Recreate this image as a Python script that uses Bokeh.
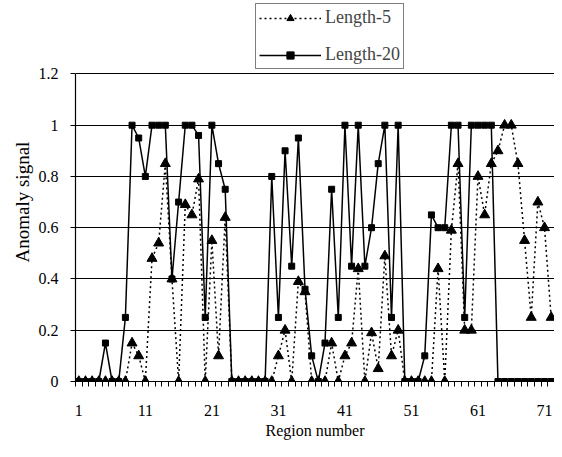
from bokeh.plotting import figure
from bokeh.models import Range1d, FixedTicker, Legend, LegendItem, Title
from bokeh.embed import file_html
from bokeh.resources import INLINE

# ---- data ----
regions = list(range(1, 73))

length5 = [0, 0, 0, 0, 0, 0, 0, 0, 0.15, 0.1,
           0, 0.48, 0.54, 0.85, 0.4, 0, 0.69, 0.65, 0.79, 0,
           0.55, 0.1, 0.64, 0, 0, 0, 0, 0, 0, 0,
           0.1, 0.2, 0, 0.39, 0.35, 0, 0, 0, 0.15, 0,
           0.1, 0.15, 0.44, 0, 0.19, 0.05, 0.49, 0.1, 0.2, 0,
           0, 0, 0, 0, 0.44, 0, 0.59, 0.85, 0.2, 0.2,
           0.8, 0.65, 0.85, 0.9, 1.0, 1.0, 0.85, 0.55, 0.25, 0.7,
           0.6, 0.25]

length20 = [0, 0, 0, 0, 0.15, 0, 0, 0.25, 1.0, 0.95,
            0.8, 1.0, 1.0, 1.0, 0.4, 0.7, 1.0, 1.0, 0.96, 0.25,
            1.0, 0.85, 0.75, 0, 0, 0, 0, 0, 0, 0.8,
            0.25, 0.9, 0.45, 0.95, 0.36, 0.1, 0, 0.15, 0.75, 0.25,
            1.0, 0.45, 1.0, 0.45, 0.6, 0.85, 1.0, 0.25, 1.0, 0,
            0, 0, 0.1, 0.65, 0.6, 0.6, 1.0, 1.0, 0.25, 1.0,
            1.0, 1.0, 1.0, 0, 0, 0, 0, 0, 0, 0,
            0, 0]

x_tick_values = [1, 11, 21, 31, 41, 51, 61, 71]
y_tick_values = [0, 0.2, 0.4, 0.6, 0.8, 1, 1.2]
y_tick_labels = ["0", "0.2", "0.4", "0.6", "0.8", "1", "1.2"]

series_names = ["Length-5", "Length-20"]
x_title = "Region number"
y_title = "Anomaly signal"

FONT = "Liberation Serif"
Y_MAX = 1.2
# the frame reaches up to the top of the figure so that the legend sits
# inside it, above the 1.2 gridline (258.3 px per unit, 74 px of headroom)
Y_TOP = Y_MAX + 74 / 258.3

p = figure(width=554, height=441, output_backend="svg", toolbar_location=None,
           x_range=Range1d(0.5, 72.5), y_range=Range1d(0, Y_TOP),
           min_border_left=75, min_border_right=0, min_border_top=0,
           min_border_bottom=57)
p.outline_line_color = None
p.background_fill_color = "white"

# axes
p.xaxis.ticker = FixedTicker(ticks=x_tick_values,
                             minor_ticks=[i + 0.5 for i in range(0, 73)])
p.xaxis.major_tick_out = 0
p.xaxis.major_tick_in = 0
p.xaxis.minor_tick_out = 5
p.xaxis.minor_tick_in = 0
p.xaxis.minor_tick_line_color = "black"
p.xaxis.minor_tick_line_width = 1
p.xaxis.major_label_standoff = 18
p.xaxis.axis_label = x_title
p.xaxis.axis_label_standoff = 3
p.xaxis.axis_label_text_font = FONT
p.xaxis.axis_label_text_font_size = "16px"
p.xaxis.axis_label_text_font_style = "normal"

p.yaxis.ticker = FixedTicker(ticks=y_tick_values, minor_ticks=[])
p.yaxis.bounds = (0, Y_MAX)
p.yaxis.major_label_overrides = {str(v) if v not in (0, 1) else str(int(v)): l
                                 for v, l in zip(y_tick_values, y_tick_labels)}
p.yaxis.major_tick_out = 5
p.yaxis.major_tick_in = 0
p.yaxis.major_label_standoff = 12

for ax in (p.xaxis, p.yaxis):
    ax.axis_line_color = "black"
    ax.axis_line_width = 1.2
    ax.major_tick_line_color = "black"
    ax.major_label_text_font = FONT
    ax.major_label_text_font_size = "16px"
    ax.major_label_text_color = "black"
    ax.axis_label_text_color = "black"

p.xgrid.grid_line_color = None
p.ygrid.ticker = FixedTicker(ticks=y_tick_values)
p.ygrid.grid_line_color = "black"
p.ygrid.grid_line_width = 1.2

# series
l5 = p.line(regions, length5, line_color="black", line_width=1.5, line_dash="2 3")
s5 = p.scatter(regions, length5, marker="triangle", size=10,
               fill_color="black", line_color="black")
l20 = p.line(regions, length20, line_color="black", line_width=1.5)
s20 = p.scatter(regions, length20, marker="square", size=6,
                fill_color="black", line_color="black")

legend = Legend(items=[LegendItem(label=series_names[0], renderers=[l5, s5]),
                       LegendItem(label=series_names[1], renderers=[l20, s20])],
                location=(180, 312), orientation="vertical",
                border_line_color="black", border_line_width=1,
                background_fill_color="white", background_fill_alpha=1,
                label_text_font=FONT, label_text_font_size="18px",
                glyph_width=62, glyph_height=18, label_height=18,
                label_standoff=4, padding=3, spacing=16, margin=0)
p.add_layout(legend)

ytitle = Title(text=y_title, align="left", vertical_align="top", offset=119,
               standoff=2, text_font=FONT, text_font_size="19px",
               text_font_style="normal", text_color="black")
p.add_layout(ytitle, "left")

open("out.html", "w").write(file_html(p, INLINE))
